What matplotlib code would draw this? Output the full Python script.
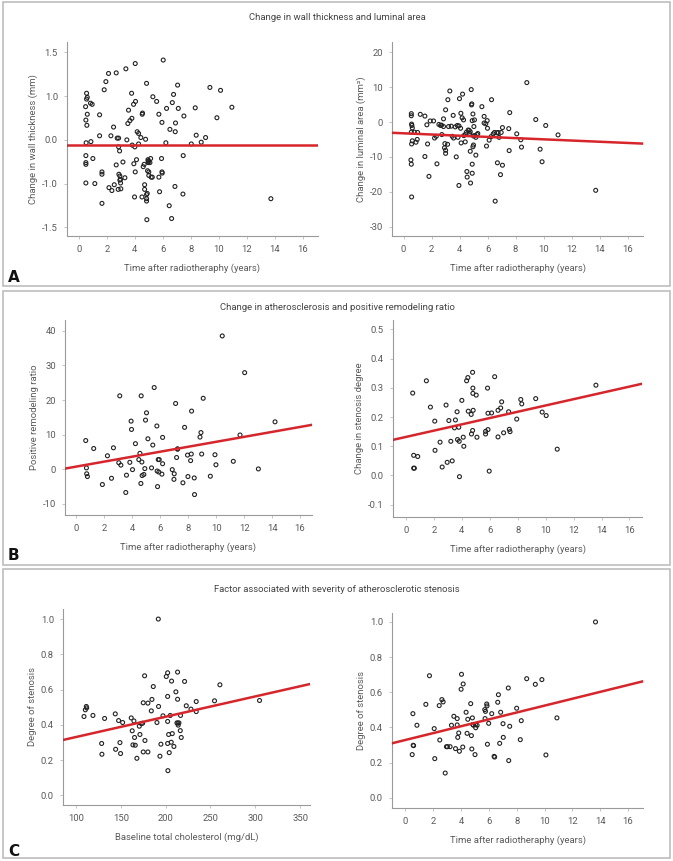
import matplotlib
matplotlib.use("Agg")
import matplotlib.pyplot as plt
from matplotlib.patches import Rectangle
import numpy as np

plt.rcParams['font.family'] = ['Roboto', 'DejaVu Sans']
plt.rcParams['axes.unicode_minus'] = False

# A left: change in wall thickness vs time (y on the drawn linear scale)
wt_x = [0.55, 0.60, 0.55, 0.48, 0.60, 0.50, 0.57, 0.52, 0.50, 0.50, 0.50, 0.50, 0.83, 0.95, 0.86, 1.00,
        1.14, 1.48, 1.48, 1.65, 1.65, 1.65, 1.81, 1.93, 2.12, 2.29, 2.48, 2.67, 2.15, 2.36, 2.53, 2.67,
        2.74, 2.84, 2.84, 2.91, 2.86, 2.93, 2.93, 2.98, 2.98, 3.00, 2.81, 3.15, 3.29, 3.36, 3.43, 3.50,
        3.55, 3.65, 3.79, 3.77, 3.91, 3.81, 3.93, 4.00, 4.05, 4.03, 3.98, 4.03, 4.12, 4.17, 4.27, 4.27,
        4.43, 4.51, 4.53, 4.55, 4.60, 4.67, 4.70, 4.70, 4.77, 4.84, 4.84, 4.89, 4.84, 4.84, 4.86, 4.94,
        4.96, 4.96, 4.98, 4.91, 5.00, 5.00, 5.13, 5.08, 5.17, 5.25, 5.29, 5.56, 5.72, 5.72, 5.77, 5.94,
        5.91, 5.94, 5.96, 6.03, 6.22, 6.27, 6.46, 6.51, 6.63, 6.68, 6.77, 6.87, 6.91, 6.89, 7.06, 7.11,
        7.46, 7.44, 7.51, 8.04, 8.32, 8.39, 8.75, 9.06, 9.37, 9.87, 10.13, 10.94, 13.73]
wt_y = [0.80, 0.73, 0.70, 0.57, 0.44, 0.34, 0.25, -0.05, -0.27, -0.39, -0.42, -0.74, 0.63, 0.61, -0.03, -0.32,
        -0.75, 0.43, 0.07, -0.55, -0.59, -1.09, 0.86, 1.00, 1.14, 0.07, 0.22, 1.15, -0.82, -0.87, -0.77, -0.43,
        0.03, 0.03, -0.12, -0.19, -0.59, -0.62, -0.69, -0.68, -0.74, -0.84, -0.85, -0.38, -0.65, 1.22, 0.00, 0.28,
        0.51, 0.33, 0.37, 0.80, 0.61, -0.09, -0.41, -0.12, 0.66, 1.31, -0.98, -0.55, -0.34, 0.14, 0.11, -0.07,
        0.04, -0.98, 0.44, 0.46, -0.46, -0.42, -0.85, -0.77, 0.01, 0.97, -1.01, -0.92, -0.94, -1.05, -1.37, -0.34,
        -0.36, -0.39, -0.37, -0.53, -0.55, -0.61, -0.32, -0.39, -0.64, -0.64, 0.74, 0.66, 0.44, -0.64, -0.89, 0.30,
        -0.32, -0.55, -0.57, 1.37, -0.05, 0.54, -1.13, 0.18, -1.35, 0.64, 0.78, -0.80, 0.29, 0.14, 0.94, 0.54,
        -0.27, -0.93, 0.41, -0.07, 0.55, 0.08, -0.04, 0.04, 0.90, 0.38, 0.85, 0.56, -1.01]
wt_ticks = [1.5, 0.75, 0.0, -0.75, -1.5]
wt_ticklabels = ['1.5', '1.0', '0.0', '-1.0', '-1.5']

# A right: change in luminal area vs time
la_x = [0.55, 0.55, 0.57, 0.59, 0.62, 0.55, 0.57, 0.62, 0.55, 0.52, 0.57, 0.76, 0.88, 0.97, 1.00, 1.19,
        1.52, 1.66, 1.71, 1.81, 1.52, 1.90, 2.14, 2.21, 2.33, 2.38, 2.52, 2.64, 2.71, 2.73, 2.85, 2.85,
        3.00, 2.95, 2.92, 3.00, 3.00, 3.14, 3.16, 3.21, 3.30, 3.40, 3.47, 3.54, 3.57, 3.69, 3.76, 3.83,
        3.88, 3.95, 3.99, 3.95, 4.07, 4.09, 4.11, 4.21, 4.18, 4.28, 4.30, 4.40, 4.42, 4.47, 4.52, 4.54,
        4.61, 4.68, 4.71, 4.76, 4.78, 4.76, 4.83, 4.85, 4.90, 4.90, 4.95, 4.87, 4.90, 4.95, 4.99, 5.02,
        5.06, 4.99, 5.09, 5.16, 5.16, 5.25, 5.30, 5.59, 5.75, 5.75, 5.87, 5.92, 5.97, 5.99, 6.11, 6.28,
        6.25, 6.40, 6.49, 6.54, 6.66, 6.70, 6.75, 6.82, 6.92, 6.97, 7.06, 7.06, 7.51, 7.54, 7.58, 8.08,
        8.37, 8.42, 8.80, 9.44, 9.75, 10.15, 9.89, 11.03, 13.72]
la_y = [2.4, 1.8, -0.6, -1.0, -1.7, -2.9, -6.3, -5.4, -12.1, -10.9, -21.5, -2.9, -5.8, -5.0, -3.0, 2.2,
        1.7, -0.8, -6.3, -15.6, -9.9, 0.3, 0.3, -4.6, -4.1, -12.0, -0.7, -1.0, -0.9, -3.6, 0.9, -1.3,
        3.5, -6.2, -7.4, -9.0, -8.1, -6.4, 6.4, -1.3, 8.9, -1.2, -4.1, 1.9, -4.6, -1.4, -10.0, -1.0,
        -4.4, -18.2, 6.7, -1.1, -1.8, 2.5, -6.0, 8.0, 1.2, 0.6, -3.9, -5.7, -3.6, -3.0, -14.2, -15.8,
        -2.3, -2.4, -3.3, -2.8, -17.5, -8.4, 9.3, 4.9, -14.7, 0.4, 2.3, 5.2, -12.1, -7.1, -4.0, -1.3,
        0.6, -6.6, -3.9, -4.4, -9.5, -3.6, -3.3, 4.4, 1.6, -0.3, -0.5, -6.9, 0.4, -1.8, -5.2, 6.4,
        -4.2, -3.4, -3.0, -22.7, -3.1, -11.7, -3.0, -4.4, -15.1, -3.0, -12.4, -1.6, -1.9, -8.2, 2.7, -3.4,
        -5.1, -7.2, 11.3, 0.7, -7.8, -1.0, -11.4, -3.7, -19.6]

# B left: positive remodeling ratio vs time
pr_x = [0.69, 0.74, 0.76, 0.81, 1.26, 1.88, 2.24, 2.53, 2.67, 3.05, 3.12, 3.20, 3.60, 3.55, 3.84, 3.93,
        3.96, 4.03, 4.24, 4.48, 4.56, 4.63, 4.65, 4.70, 4.72, 4.84, 4.91, 4.96, 5.03, 5.13, 5.39, 5.48,
        5.58, 5.77, 5.79, 5.82, 5.87, 5.94, 5.91, 6.13, 6.18, 6.18, 6.87, 6.99, 7.01, 7.11, 7.18, 7.25,
        7.25, 7.63, 7.75, 7.96, 7.99, 8.18, 8.23, 8.25, 8.44, 8.46, 8.85, 8.92, 8.97, 9.08, 9.59, 9.92,
        9.99, 10.44, 11.23, 11.71, 12.04, 13.02, 14.21]
pr_y = [8.3, 0.4, -1.3, -2.1, 6.0, -4.4, 3.9, -2.6, 6.2, 1.9, 21.2, 1.2, -1.7, -6.7, 2.0, 13.9,
        11.5, -0.1, 7.4, 2.8, 4.6, -4.1, 21.2, 2.1, -1.8, -1.5, 0.2, 14.2, 16.3, 8.8, 0.4, 7.0,
        23.6, 12.5, -0.5, -5.0, 2.8, 2.8, -0.8, -1.4, 9.2, 1.6, -0.1, -2.9, -1.3, 19.0, 3.4, 5.8,
        5.9, -3.9, 12.1, 4.1, -2.1, 2.5, 4.4, 16.8, -2.5, -7.3, 9.3, 10.6, 4.4, 20.5, -2.0, 4.2,
        1.3, 38.5, 2.3, 9.9, 27.9, 0.1, 13.7]

# B right: change in stenosis degree vs time
sd_x = [0.48, 0.55, 0.55, 0.60, 0.84, 1.46, 1.75, 2.06, 2.08, 2.44, 2.59, 2.87, 2.95, 3.07, 3.21, 3.31,
        3.47, 3.54, 3.66, 3.69, 3.78, 3.81, 3.83, 4.00, 4.10, 4.14, 4.34, 4.43, 4.46, 4.67, 4.69, 4.77,
        4.77, 4.79, 4.79, 4.81, 5.03, 5.08, 5.84, 5.87, 5.70, 5.70, 5.87, 5.96, 6.13, 6.35, 6.59, 6.78,
        6.85, 6.59, 6.99, 7.35, 7.40, 7.45, 7.93, 8.22, 8.29, 9.29, 9.75, 10.04, 10.83, 13.60]
sd_y = [0.282, 0.069, 0.025, 0.025, 0.065, 0.324, 0.234, 0.186, 0.086, 0.114, 0.029, 0.241, 0.045, 0.188, 0.117, 0.050,
        0.163, 0.190, 0.218, 0.123, 0.165, 0.117, -0.004, 0.257, 0.131, 0.100, 0.324, 0.335, 0.220, 0.209, 0.142, 0.154,
        0.353, 0.299, 0.281, 0.223, 0.275, 0.131, 0.299, 0.213, 0.151, 0.142, 0.157, 0.015, 0.214, 0.338, 0.223, 0.231,
        0.252, 0.132, 0.146, 0.218, 0.158, 0.150, 0.193, 0.260, 0.245, 0.263, 0.217, 0.205, 0.090, 0.309]

# C left: degree of stenosis vs baseline total cholesterol
ch_x = [108.9, 110.4, 111.5, 111.9, 118.9, 128.6, 128.9, 131.9, 143.8, 144.2, 147.5, 149.0, 149.7, 152.0, 161.6, 162.7,
        163.5, 164.6, 165.3, 166.1, 167.9, 170.6, 171.3, 172.8, 174.3, 175.0, 175.0, 176.9, 176.5, 180.2, 180.2, 184.0,
        184.7, 186.2, 190.3, 192.1, 193.6, 194.7, 197.0, 200.7, 202.2, 202.2, 202.2, 202.2, 202.5, 203.3, 204.0, 205.1,
        206.2, 206.6, 207.4, 209.2, 211.4, 212.6, 213.3, 213.3, 213.7, 214.8, 214.0, 216.3, 216.6, 217.4, 221.1, 223.0,
        228.2, 234.1, 234.1, 254.5, 260.5, 304.7, 191.8]
ch_y = [0.447, 0.485, 0.504, 0.496, 0.453, 0.294, 0.233, 0.436, 0.462, 0.261, 0.424, 0.299, 0.237, 0.413, 0.439, 0.366,
        0.286, 0.422, 0.328, 0.284, 0.210, 0.392, 0.345, 0.407, 0.409, 0.525, 0.246, 0.311, 0.678, 0.523, 0.246, 0.479,
        0.544, 0.617, 0.413, 0.504, 0.222, 0.290, 0.451, 0.674, 0.695, 0.561, 0.419, 0.294, 0.140, 0.345, 0.242, 0.453,
        0.301, 0.648, 0.350, 0.277, 0.587, 0.411, 0.545, 0.699, 0.409, 0.411, 0.398, 0.367, 0.453, 0.328, 0.646, 0.508,
        0.489, 0.532, 0.475, 0.536, 0.627, 0.538, 1.000]

# C right: degree of stenosis vs time
ds_x = [0.55, 0.50, 0.57, 0.60, 0.84, 1.48, 1.74, 2.08, 2.12, 2.44, 2.48, 2.63, 2.72, 2.87, 2.96, 3.03,
        3.22, 3.32, 3.49, 3.61, 3.73, 3.73, 3.77, 3.84, 3.89, 4.01, 4.04, 4.13, 4.16, 4.37, 4.44, 4.49,
        4.70, 4.75, 4.78, 4.82, 4.85, 4.90, 5.01, 5.04, 5.06, 5.16, 5.71, 5.73, 5.76, 5.85, 5.87, 5.90,
        5.99, 6.21, 6.38, 6.42, 6.64, 6.69, 6.78, 6.85, 7.02, 7.04, 7.40, 7.50, 7.43, 8.00, 8.26, 8.33,
        8.72, 9.34, 9.81, 10.10, 10.89, 13.66]
ds_y = [0.478, 0.245, 0.298, 0.296, 0.412, 0.531, 0.694, 0.393, 0.222, 0.524, 0.328, 0.558, 0.545, 0.140, 0.290, 0.290,
        0.290, 0.412, 0.463, 0.279, 0.450, 0.414, 0.343, 0.368, 0.264, 0.617, 0.702, 0.288, 0.647, 0.486, 0.366, 0.446,
        0.535, 0.353, 0.277, 0.454, 0.416, 0.412, 0.245, 0.416, 0.398, 0.412, 0.501, 0.450, 0.491, 0.533, 0.522, 0.304,
        0.423, 0.478, 0.235, 0.231, 0.543, 0.586, 0.309, 0.486, 0.421, 0.343, 0.624, 0.406, 0.211, 0.509, 0.330, 0.438,
        0.677, 0.645, 0.672, 0.243, 0.454, 1.000]

# regression lines (intercept, slope)
fit_wt = (-0.08, 0.0)
fit_la = (-3.24, -0.173)
fit_pr = (0.77, 0.716)
fit_sd = (0.132, 0.01076)
fit_ch = (0.2155, 0.001152)
fit_ds = (0.328, 0.01958)

time_ticks = [0, 2, 4, 6, 8, 10, 12, 14, 16]
chol_ticks = [100, 150, 200, 250, 300, 350]
xlab_time = 'Time after radiotheraphy (years)'

W, H = 673, 861
fig = plt.figure(figsize=(W / 100, H / 100), dpi=100)

TXT = '#5a5a5a'
SPINE = '#9a9a9a'
RED = '#d7262b'
FS = 6.8


def px_axes(x0, x1, top, bottom):
    return fig.add_axes([x0 / W, 1 - bottom / H, (x1 - x0) / W, (bottom - top) / H])


def panel(ax, x, y, fit, xlim, ylim, xticks, yticks, xlabel, ylabel, yticklabels=None):
    ax.scatter(x, y, s=8, facecolors='none', edgecolors='#222222', linewidths=0.8, zorder=3)
    xs = np.array(xlim)
    ax.plot(xs, fit[0] + fit[1] * xs, color=RED, lw=1.8, zorder=4)
    ax.set_xlim(xlim)
    ax.set_ylim(ylim)
    ax.set_xticks(xticks)
    ax.set_yticks(yticks)
    if yticklabels is not None:
        ax.set_yticklabels(yticklabels)
    for s in ['top', 'right']:
        ax.spines[s].set_visible(False)
    for s in ['left', 'bottom']:
        ax.spines[s].set_color(SPINE)
        ax.spines[s].set_linewidth(0.8)
    ax.tick_params(length=2.5, width=0.6, color='#bbbbbb', labelsize=FS, labelcolor=TXT, pad=4)
    ax.set_xlabel(xlabel, fontsize=FS, color=TXT, labelpad=7)
    ax.set_ylabel(ylabel, fontsize=FS, color=TXT, labelpad=3)
    ax.patch.set_alpha(0)


ax = px_axes(67, 318, 42, 236)
panel(ax, wt_x, wt_y, fit_wt, (-0.85, 17.1), (-1.65, 1.68), time_ticks, wt_ticks,
      xlab_time, 'Change in wall thickness (mm)', wt_ticklabels)

ax = px_axes(392, 643, 42, 236)
panel(ax, la_x, la_y, fit_la, (-0.83, 17.1), (-32.7, 22.95), time_ticks, [20, 10, 0, -10, -20, -30],
      xlab_time, 'Change in luminal area (mm²)')

ax = px_axes(65, 312, 320, 515)
panel(ax, pr_x, pr_y, fit_pr, (-0.79, 16.85), (-13.2, 43.1), time_ticks, [40, 30, 20, 10, 0, -10],
      xlab_time, 'Positive remodeling ratio')

ax = px_axes(393, 642, 320, 517)
panel(ax, sd_x, sd_y, fit_sd, (-0.93, 16.9), (-0.142, 0.532), time_ticks,
      [0.5, 0.4, 0.3, 0.2, 0.1, 0.0, -0.1], xlab_time, 'Change in stenosis degree')
ax.yaxis.set_major_formatter(plt.FormatStrFormatter('%.1f'))

ax = px_axes(63, 310, 609, 805)
panel(ax, ch_x, ch_y, fit_ch, (85.5, 361), (-0.055, 1.057), chol_ticks,
      [1.0, 0.8, 0.6, 0.4, 0.2, 0.0], 'Baseline total cholesterol (mg/dL)', 'Degree of stenosis')
ax.yaxis.set_major_formatter(plt.FormatStrFormatter('%.1f'))

ax = px_axes(392, 643, 613, 808)
panel(ax, ds_x, ds_y, fit_ds, (-0.95, 17.07), (-0.059, 1.051), time_ticks,
      [1.0, 0.8, 0.6, 0.4, 0.2, 0.0], xlab_time, 'Degree of stenosis')
ax.yaxis.set_major_formatter(plt.FormatStrFormatter('%.1f'))

# panel boxes, titles and letters
boxes = [(2, 286), (291, 565), (569, 858)]
titles = ['Change in wall thickness and luminal area',
          'Change in atherosclerosis and positive remodeling ratio',
          'Factor associated with severity of atherosclerotic stenosis']
title_y = [18, 307, 590]
letters = ['A', 'B', 'C']
letter_y = [278, 556, 851]
for (t, b), title, ty, letter, ly in zip(boxes, titles, title_y, letters, letter_y):
    fig.patches.append(Rectangle((3 / W, 1 - b / H), 667 / W, (b - t) / H, transform=fig.transFigure,
                                 fill=False, edgecolor='#bdbdbd', lw=1.2))
    fig.text(337 / W, 1 - ty / H, title, ha='center', va='center', fontsize=FS, color='#444444')
    fig.text(8 / W, 1 - ly / H, letter, ha='left', va='center', fontsize=11, fontweight='bold',
             family='DejaVu Sans', color='#111111')

fig.savefig('out.png', dpi=100)
